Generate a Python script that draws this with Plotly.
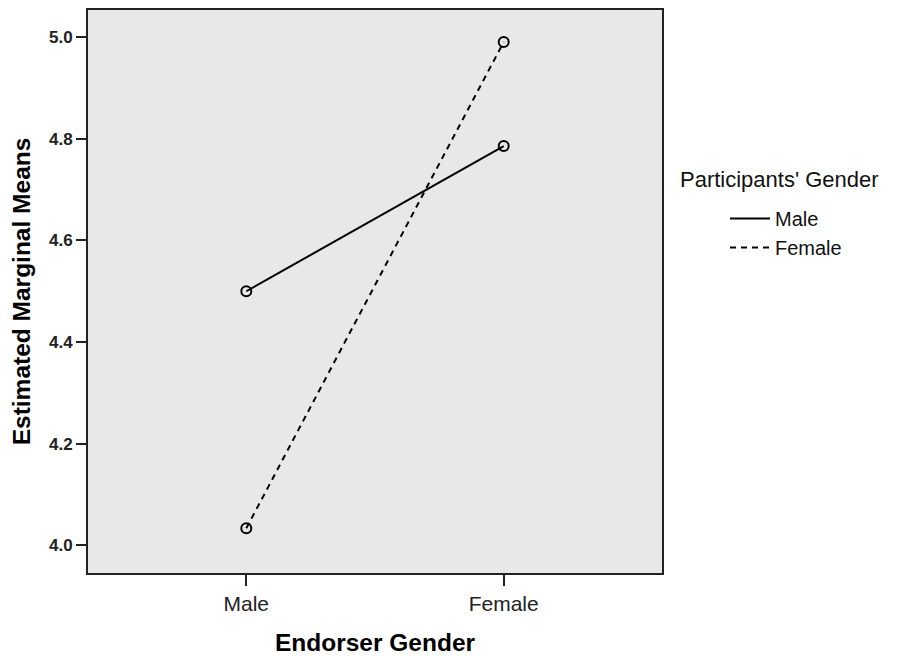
import plotly.graph_objects as go

categories = ["Male", "Female"]
male_participants = [4.50, 4.786]
female_participants = [4.033, 4.991]
y_ticks = [4.0, 4.2, 4.4, 4.6, 4.8, 5.0]
y_tick_labels = ["4.0", "4.2", "4.4", "4.6", "4.8", "5.0"]

font_family = "Liberation Sans, Arial, sans-serif"
x_idx = list(range(len(categories)))

# page has an 8px body margin; figure sized/margined to compensate
L, T, PW, PH = 80, 2, 574, 563

fig = go.Figure()
series = [("Male", male_participants, "solid"), ("Female", female_participants, "6px,5px")]
for name, vals, dash in series:
    fig.add_trace(go.Scatter(
        x=x_idx, y=vals, mode="lines", name=name,
        line=dict(color="black", width=2, dash=dash),
    ))
for name, vals, dash in series:
    fig.add_trace(go.Scatter(
        x=x_idx, y=vals, mode="markers", name=name, showlegend=False,
        marker=dict(symbol="circle-open", size=10, color="black", line=dict(width=2, color="black")),
    ))

fig.update_layout(
    width=890, height=648,
    margin=dict(l=L, r=890 - L - PW, t=T, b=648 - T - PH, autoexpand=False),
    paper_bgcolor="white", plot_bgcolor="#e8e8e8",
    font=dict(family=font_family, color="black"),
    showlegend=True,
    legend=dict(
        x=(717 - L) / PW, xanchor="left", y=1 - (191 - T) / PH, yanchor="top",
        font=dict(size=20, family=font_family, color="#111"),
        bgcolor="rgba(0,0,0,0)", itemwidth=40,
    ),
    annotations=[dict(
        text="Participants' Gender", xref="paper", yref="paper",
        x=(670 - L) / PW, xanchor="left", y=1 - (172 - T) / PH, yanchor="middle",
        showarrow=False, font=dict(size=22, family=font_family, color="#111"),
    )],
)
fig.update_xaxes(
    range=[-0.615, 1.615], tickvals=x_idx, ticktext=categories,
    showgrid=False, zeroline=False,
    showline=True, linecolor="#222", linewidth=2, mirror=True,
    ticks="outside", ticklen=11, tickwidth=2, tickcolor="#222",
    tickfont=dict(size=21, family=font_family, color="#222"),
    title=dict(text="<b>Endorser Gender</b>", font=dict(size=24.5, family=font_family), standoff=22),
)
fig.update_yaxes(
    range=[3.945, 5.054], tickvals=y_ticks, ticktext=y_tick_labels,
    showgrid=False, zeroline=False,
    showline=True, linecolor="#222", linewidth=2, mirror=True,
    ticks="outside", ticklen=10, tickwidth=2, tickcolor="#222",
    tickfont=dict(size=17, family=font_family, color="#222", weight="bold"),
    title=dict(text="<b>Estimated Marginal Means</b>", font=dict(size=24.5, family=font_family), standoff=13),
)

fig.write_html("out.html")
